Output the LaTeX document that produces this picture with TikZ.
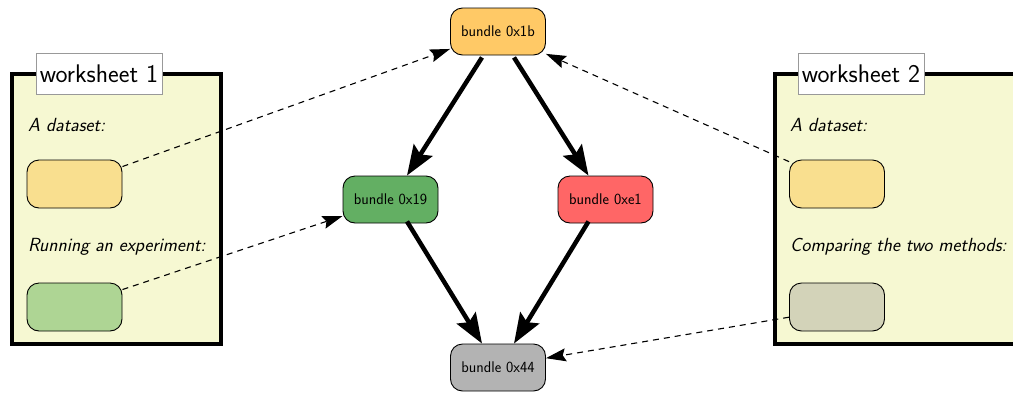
\documentclass[tikz,border=0pt]{standalone}
\usetikzlibrary{arrows.meta,calc}
\definecolor{wsfill}{HTML}{F6F8D2}
\definecolor{dsyellow}{HTML}{F9DF8F}
\definecolor{dsgreen}{HTML}{AED594}
\definecolor{dsgray}{HTML}{D3D3B9}
\definecolor{corange}{HTML}{FFC966}
\definecolor{cgreen}{HTML}{63AF63}
\definecolor{cred}{HTML}{FF6666}
\definecolor{cgray}{HTML}{B3B3B3}
\tikzset{
  bundlebox/.style={draw=black, line width=0.9pt, rounded corners=12pt, minimum width=95pt, minimum height=47pt, inner sep=0pt, font=\sffamily\fontsize{15.5}{16}\selectfont},
  slotbox/.style={draw=black, line width=0.9pt, rounded corners=12pt, minimum width=95pt, minimum height=48pt, inner sep=0pt},
  wsbox/.style={draw=black, line width=4pt, fill=wsfill},
  wstitle/.style={draw=black!40, fill=white, line width=0.7pt, minimum width=126pt, minimum height=41pt, inner sep=0pt, font=\sffamily\fontsize{25.5}{27}\selectfont},
  wslabel/.style={anchor=base west, inner sep=0pt, font=\sffamily\itshape\fontsize{19}{21}\selectfont},
  bigarrow/.style={line width=4.5pt, -{Stealth[length=30pt, width=22pt, inset=5pt]}},
  refarrow/.style={line width=1.1pt, dash pattern=on 6pt off 5pt, -{Stealth[length=20pt, width=13pt, inset=3pt]}},
}
\begin{document}
\begin{tikzpicture}[x=1pt, y=-1pt]
\useasboundingbox (0,0) rectangle (1013,392);
\clip (0,0) rectangle (1013,392);
% worksheet 1
\draw[wsbox] (12,74) rectangle (220.5,344);
\node[wstitle] (t1) at (99,73.5) {worksheet 1};
\node[wslabel] (l1a) at (28,131) {A dataset:};
\node[slotbox, fill=dsyellow] (d1) at (74.5,184) {};
\node[wslabel] (l1b) at (28,251) {Running an experiment:};
\node[slotbox, fill=dsgreen] (g1) at (74.5,307) {};
% worksheet 2
\draw[wsbox] (774.7,74) rectangle (1030,344);
\node[wstitle] (t2) at (861,73.5) {worksheet 2};
\node[wslabel] (l2a) at (790,131) {A dataset:};
\node[slotbox, fill=dsyellow] (d2) at (837,184) {};
\node[wslabel] (l2b) at (790,251) {Comparing the two methods:};
\node[slotbox, fill=dsgray] (g2) at (837,307) {};
% bundles
\node[bundlebox, fill=corange] (b1b) at (498,31.5) {bundle 0x1b};
\node[bundlebox, fill=cgreen] (b19) at (390.5,199.5) {bundle 0x19};
\node[bundlebox, fill=cred] (be1) at (605.5,199.5) {bundle 0xe1};
\node[bundlebox, fill=cgray] (b44) at (498,367.5) {bundle 0x44};
% thick arrows
\draw[bigarrow] ([xshift=-16pt,yshift=-2pt]b1b.south) -- ([xshift=16.5pt]b19.north);
\draw[bigarrow] ([xshift=16pt,yshift=-2pt]b1b.south) -- ([xshift=-17pt]be1.north);
\draw[bigarrow] ([xshift=16.5pt,yshift=2pt]b19.south) -- ([xshift=-16pt]b44.north);
\draw[bigarrow] ([xshift=-17pt,yshift=2pt]be1.south) -- ([xshift=16pt]b44.north);
% dashed references
\draw[refarrow] (d1.20) -- (b1b.200);
\draw[refarrow] (g1.20) -- (b19.199);
\draw[refarrow] (d2.155) -- (b1b.335);
\draw[refarrow] (g2.192) -- (b44.11);
\end{tikzpicture}
\end{document}
